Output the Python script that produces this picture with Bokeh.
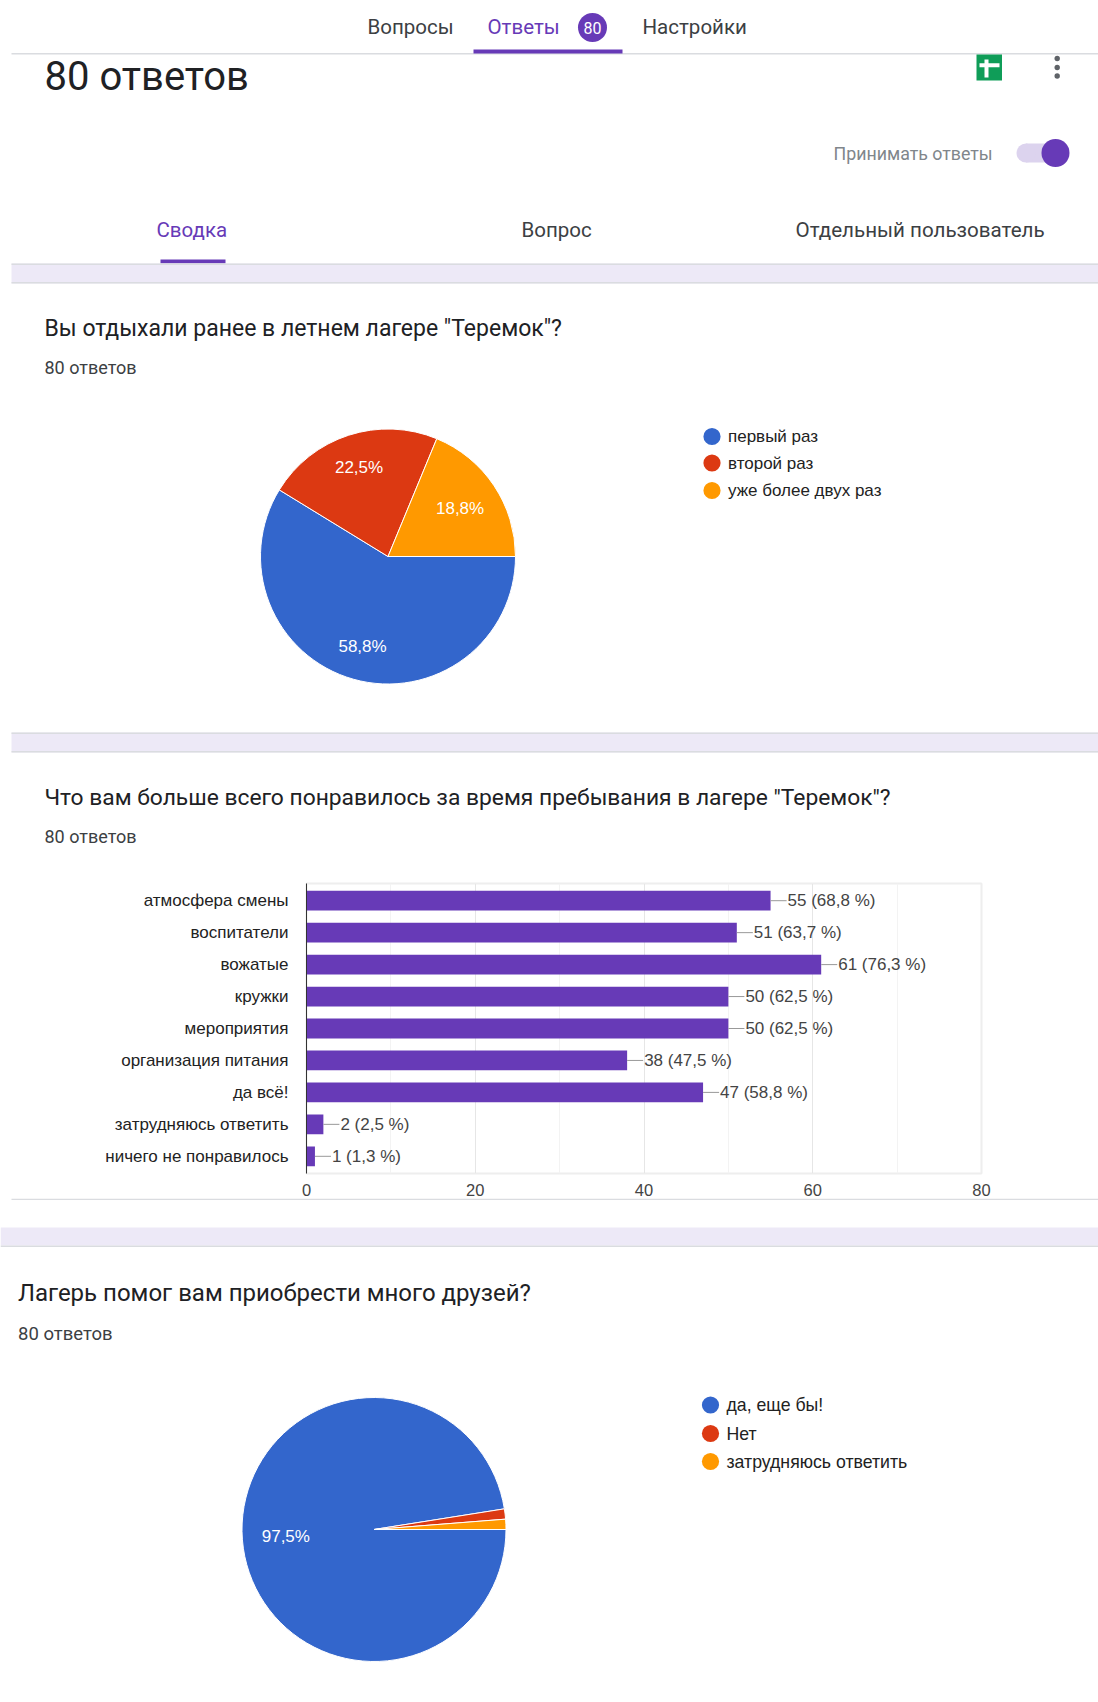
from bokeh.plotting import figure
from bokeh.layouts import column
from bokeh.models import Range1d, FactorRange, SingleIntervalTicker
from bokeh.core.properties import value
from bokeh.embed import file_html
from bokeh.resources import INLINE
import math

PURPLE = "#673ab7"; BAND = "#ede9f7"; EDGE = "#dadce0"
FONT = "Roboto"; CHART_FONT = "Liberation Sans"
PIE_COLORS = ["#3366cc", "#dc3912", "#ff9900"]

pie1_names = ["первый раз", "второй раз", "уже более двух раз"]
pie1_counts = [47, 18, 15]
pie1_labels = ["58,8%", "22,5%", "18,8%"]

pie3_names = ["да, еще бы!", "Нет", "затрудняюсь ответить"]
pie3_counts = [78, 1, 1]
pie3_labels = ["97,5%", "", ""]

bar_categories = ["атмосфера смены", "воспитатели", "вожатые", "кружки", "мероприятия",
                  "организация питания", "да всё!", "затрудняюсь ответить", "ничего не понравилось"]
bar_values = [55, 51, 61, 50, 50, 38, 47, 2, 1]
bar_labels = ["55 (68,8 %)", "51 (63,7 %)", "61 (76,3 %)", "50 (62,5 %)", "50 (62,5 %)",
              "38 (47,5 %)", "47 (58,8 %)", "2 (2,5 %)", "1 (1,3 %)"]

W = 1098


def page(top, bottom):
    p = figure(width=W, height=bottom - top, output_backend="svg", toolbar_location=None,
               x_range=Range1d(0, W), y_range=Range1d(-bottom, -top),
               min_border=0, outline_line_color=None, background_fill_color="white",
               frame_align=False, x_axis_location=None, y_axis_location=None)
    p.grid.visible = False
    return p


def txt(p, x, y, s, size, color="#202124", align="left", font=FONT):
    p.text([x], [-y], text=[s], text_font=value(font), text_font_size=f"{size}px",
           text_color=color, text_align=align, text_baseline="middle")


def box(p, x0, x1, y0, y1, color):
    p.quad(left=[x0], right=[x1], top=[-y0], bottom=[-y1], fill_color=color, line_color=None)


def dot(p, x, y, r, color):
    p.circle([x], [-y], radius=r, fill_color=color, line_color=None)


def pie(p, cx, cy, r, counts, labels, lab_fracs, size):
    total = sum(counts)
    cum = 0
    for c, col, lab, frac in zip(counts, PIE_COLORS, labels, lab_fracs):
        a0 = cum / total * 2 * math.pi
        cum += c
        a1 = cum / total * 2 * math.pi
        p.wedge([cx], [-cy], radius=r, start_angle=-a1, end_angle=-a0, direction="anticlock",
                fill_color=col, line_color="white", line_width=1)
        if lab:
            m = (a0 + a1) / 2
            p.text([cx + r * frac * math.cos(m)], [-cy - r * frac * math.sin(m)], text=[lab],
                   text_font=value(CHART_FONT), text_font_size=f"{size}px", text_color="white",
                   text_align="center", text_baseline="middle")


def legend(p, x, ys, names, size):
    for y, name, col in zip(ys, names, PIE_COLORS):
        dot(p, x, y, 8.6, col)
        txt(p, x + 16, y, name, size, "#222222", font=CHART_FONT)


# ---------- upper part: header, tabs, first question ----------
top = page(0, 876)
box(top, 11, 1098, 52.5, 54, EDGE)
txt(top, 367, 26, "Вопросы", 20.5, "#3c4043")
txt(top, 487, 26, "Ответы", 20.5, PURPLE)
dot(top, 592, 27, 14.5, PURPLE)
txt(top, 592, 27, "80", 16, "white", "center")
txt(top, 642, 26, "Настройки", 20.5, "#3c4043")
box(top, 473, 622, 49, 53, PURPLE)
txt(top, 44, 76, "80 ответов", 40, "#202124")
box(top, 976, 1001.5, 54, 80, "#0f9d58")
box(top, 984, 988, 59, 77, "white")
box(top, 979, 999, 62.7, 66.7, "white")
for yy in (58, 67, 75.5):
    dot(top, 1056.7, yy, 2.7, "#5f6368")
txt(top, 833, 153, "Принимать ответы", 17.8, "#80868b")
box(top, 1025.5, 1060, 143, 162, "#dcd3ee")
dot(top, 1025.5, 152.5, 9.5, "#dcd3ee")
dot(top, 1055, 152.5, 14, PURPLE)
txt(top, 156, 229, "Сводка", 20.5, PURPLE)
txt(top, 521, 229, "Вопрос", 20.5, "#3c4043")
txt(top, 795, 229, "Отдельный пользователь", 20.6, "#3c4043")
box(top, 160, 225, 259, 263, PURPLE)
box(top, 11, 1098, 263, 283, BAND)
box(top, 11, 1098, 263, 264.5, EDGE)
box(top, 11, 1098, 281.5, 283, EDGE)
txt(top, 44, 328, 'Вы отдыхали ранее в летнем лагере "Теремок"?', 23)
txt(top, 44, 367, "80 ответов", 18, "#3c4043")
pie(top, 387.5, 556, 127.5, pie1_counts, pie1_labels, [0.735, 0.735, 0.68], 17)
legend(top, 711.5, [436, 462.5, 490], pie1_names, 17)
box(top, 11, 1098, 732, 752, BAND)
box(top, 11, 1098, 732, 733.5, EDGE)
box(top, 11, 1098, 750.5, 752, EDGE)
txt(top, 44, 797, 'Что вам больше всего понравилось за время пребывания в лагере "Теремок"?', 22.8)
txt(top, 44, 836, "80 ответов", 18, "#3c4043")

# ---------- bar chart ----------
bar = figure(width=W, height=322, output_backend="svg", toolbar_location=None,
             x_range=Range1d(0, 80),
             y_range=FactorRange(factors=list(reversed(bar_categories)), range_padding=0.0085),
             min_border_left=306, min_border_right=117, min_border_top=7, min_border_bottom=25,
             outline_line_color="#eeeeee", outline_line_width=2, background_fill_color="white",
             frame_align=False)
bar.hbar(y=bar_categories, right=bar_values, height=0.62, left=0, fill_color=PURPLE,
         line_color=None)
bar.segment(x0=bar_values, x1=[v + 1.9 for v in bar_values], y0=bar_categories, y1=bar_categories,
            line_color="#999999", line_width=1)
bar.text(x=bar_values, y=bar_categories, text=bar_labels, x_offset=17, text_font=value(CHART_FONT),
         text_font_size="17px", text_color="#444444", text_baseline="middle", text_align="left")
bar.xaxis.ticker = SingleIntervalTicker(interval=20, num_minor_ticks=2)
bar.xgrid.ticker = SingleIntervalTicker(interval=20, num_minor_ticks=2)
bar.xgrid.grid_line_color = "#e6e6e6"
bar.xgrid.minor_grid_line_color = "#f3f3f3"
bar.ygrid.visible = False
bar.xaxis.axis_line_color = None
bar.xaxis.major_tick_line_color = None
bar.xaxis.minor_tick_line_color = None
bar.xaxis.major_label_standoff = 4
bar.xaxis.major_label_text_font = CHART_FONT
bar.xaxis.major_label_text_font_size = "16.5px"
bar.xaxis.major_label_text_color = "#444444"
bar.yaxis.axis_line_color = "#333333"
bar.yaxis.major_tick_line_color = None
bar.yaxis.minor_tick_line_color = None
bar.yaxis.major_label_standoff = 12
bar.yaxis.major_label_text_font = CHART_FONT
bar.yaxis.major_label_text_font_size = "17px"
bar.yaxis.major_label_text_color = "#222222"

# ---------- lower part: third question ----------
low = page(1198, 1702)
box(low, 11, 1098, 1198, 1199.5, EDGE)
box(low, 0, 1098, 1227, 1245, BAND)
box(low, 0, 1098, 1245, 1246.5, EDGE)
txt(low, 17.5, 1292, "Лагерь помог вам приобрести много друзей?", 24)
txt(low, 17.5, 1333, "80 ответов", 18.5, "#3c4043")
pie(low, 373.5, 1529, 132, pie3_counts, pie3_labels, [0.67, 0, 0], 17)
legend(low, 710, [1404.5, 1433, 1461], pie3_names, 17.7)

layout = column(top, bar, low, spacing=0)
open("out.html", "w").write(file_html(layout, INLINE))
